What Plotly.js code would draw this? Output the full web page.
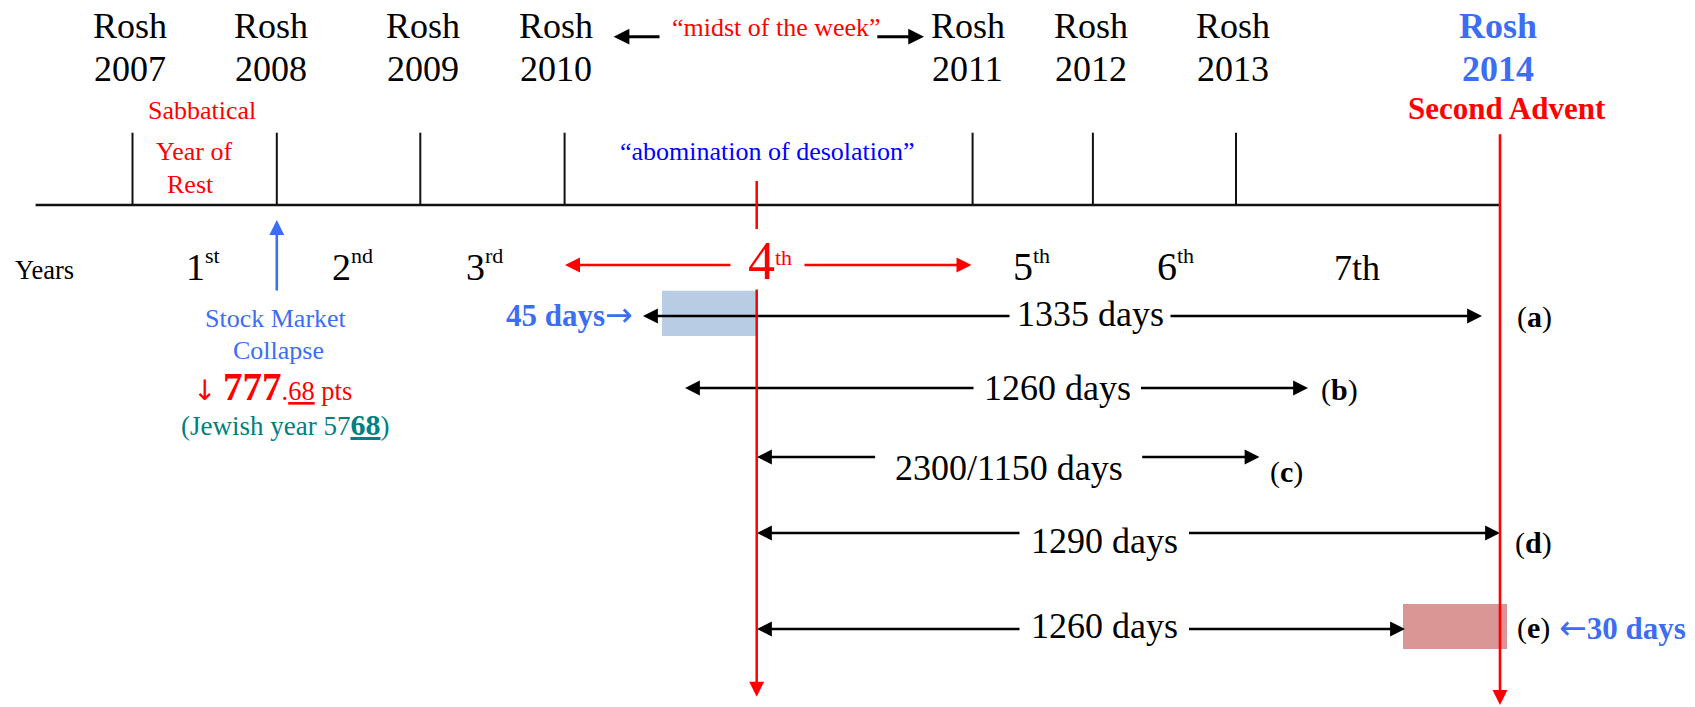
<!DOCTYPE html>
<html><head><meta charset="utf-8">
<script src="https://cdn.plot.ly/plotly-3.0.1.min.js"></script>
<style>html,body{margin:0;padding:0;background:#fff;overflow:hidden}#chart{width:1695px;height:707px}</style>
</head><body><div id="chart"></div>
<script>
// ---------- data (text / values) ----------
const roshWord = 'Rosh';
const roshYears = ['2007','2008','2009','2010','2011','2012','2013','2014'];
const yearNumbers = ['1','2','3','4','5','6','7'];
const yearSuffixes = ['st','nd','rd','th','th','th','th'];
const periodLabels = ['1335 days','1260 days','2300/1150 days','1290 days','1260 days'];
const periodTags = ['a','b','c','d','e'];
const sabbaticalLines = ['Sabbatical','Year of','Rest'];
const collapseLines = ['Stock Market','Collapse'];
const collapsePoints = ['777','68'];
const jewishYear = ['57','68'];
const extraDays = ['45 days','30 days'];
const midstLabel = '“midst of the week”';
const abominationLabel = '“abomination of desolation”';
const adventLabel = 'Second Advent';
const yearsLabel = 'Years';

// ---------- layout geometry (positions, px in a 1695x707 axis space) ----------
const G = {
  roshX: [130,271,423,555.5,967.5,1091,1233,1498], roshBase: 37.7, yearBase: 81,
  tickX: [132.5,276.8,420.3,564.6,972.6,1092.9,1236], tickTop: 132.7,
  axisY: 205, axisX0: 35.6, adventX: 1500, adventTop: 132.7, adventTip: 705,
  abomX: 756.7, abomTop: 181, abomGapTop: 229, abomGapBot: 288, abomTip: 696.7,
  ordJoint: [205,351,485,775,1033,1176.5,1356.5], ordSize: [38,38,38,54,40,40,36],
  ordBase: [280,280,280,279,280,280,280], supBase: [263,263,263,265,263,263,263],
  periodY: [316,388,457,533,629],
  periodL: [643,685,757,757,757], periodR: [1482,1308,1259.5,1500,1405],
  gapL: [1011,975,876.6,1021,1021], gapR: [1169,1139.5,1140.7,1187.5,1187.5],
  textBase: [326,400,480,553,638],
  tagX: [1534,1339,1286,1533,1533], tagBase: [327,400,481.7,553,638]
};

const FONT = 'Liberation Serif, Times New Roman, serif';
const ARROWFONT = "font-family:'DejaVu Sans';font-weight:normal;";
const BLUE = '#3b6ef3', RED = '#ff0000', TEAL = '#008080', PBLUE = '#0000ff', BLACK = '#000000';

const ann = [];
function txt(text, x, base, size, color, o) {
  o = o || {};
  ann.push({
    text: text, x: x, y: base - 0.3375 * (o.box || size), xref: 'x', yref: 'y',
    showarrow: false, xanchor: o.anchor || 'center', yanchor: 'middle',
    font: {family: FONT, size: size, color: color, weight: o.bold ? 'bold' : 'normal'},
    borderpad: 0, borderwidth: 0
  });
}
function arrow(x0, y0, x1, y1, color, width, size) {
  ann.push({
    x: x1, y: y1, ax: x0, ay: y0, xref: 'x', yref: 'y', axref: 'x', ayref: 'y',
    text: '', showarrow: true, arrowhead: 2, arrowsize: size, arrowwidth: width,
    arrowcolor: color, standoff: 0, startstandoff: 0
  });
}

// Rosh labels
roshYears.forEach((yr, i) => {
  const last = i === roshYears.length - 1;
  txt(roshWord, G.roshX[i], G.roshBase, 36, last ? BLUE : BLACK, {bold: last});
  txt(yr, G.roshX[i], G.yearBase, 36, last ? BLUE : BLACK, {bold: last});
});
// midst of the week
txt(midstLabel, 776, 36.7, 26, RED);
arrow(661, 36.7, 613.6, 36.7, BLACK, 3, 1.05);
arrow(875.8, 36.7, 924, 36.7, BLACK, 3, 1.05);
// Second advent
txt(adventLabel, 1507, 119, 31, RED, {bold: true});
// Sabbatical
[[201.7,119],[193.7,160],[190,193]].forEach((p, i) => txt(sabbaticalLines[i], p[0], p[1], 26, RED));
// abomination
txt(abominationLabel, 767, 160, 26, PBLUE);
// Years row
txt(yearsLabel, 44, 279, 26.5, BLACK);
yearNumbers.forEach((n, i) => {
  const col = i === 3 ? RED : BLACK;
  if (i === 6) {
    txt(n + yearSuffixes[i], G.ordJoint[i], G.ordBase[i], G.ordSize[i], col);
  } else {
    txt(n, G.ordJoint[i], G.ordBase[i], G.ordSize[i], col, {anchor: 'right'});
    txt(yearSuffixes[i], G.ordJoint[i], G.supBase[i], 22, col, {anchor: 'left'});
  }
});
// red 4th arrows
arrow(732, 265, 565, 265, RED, 2.5, 1.2);
arrow(803, 265, 971.5, 265, RED, 2.5, 1.2);
// stock market
arrow(276.8, 292, 276.8, 220, BLUE, 2.6, 1.15);
txt(collapseLines[0], 276, 327, 26, BLUE);
txt(collapseLines[1], 278, 359, 26, BLUE);
txt('<span style="' + ARROWFONT + 'font-size:28px">↓</span> <span style="font-weight:bold;font-size:39px">' + collapsePoints[0] +
    '</span>.<u>' + collapsePoints[1] + '</u> pts', 193, 400, 26.5, RED, {anchor: 'left', box: 39});
txt('(Jewish year ' + jewishYear[0] + '<b><u><span style="font-size:30px">' + jewishYear[1] + '</span></u></b>)',
    285, 435, 27, TEAL, {box: 30});
// extra days
txt('<b>' + extraDays[0] + '</b><span style="' + ARROWFONT + 'font-size:33px">→</span>', 506, 326, 31, BLUE, {anchor: 'left', box: 33});
txt('<span style="' + ARROWFONT + 'font-size:33px">←</span><b>' + extraDays[1] + '</b>', 1559, 639, 31, BLUE, {anchor: 'left', box: 33});
// periods
periodLabels.forEach((lab, i) => {
  const y = G.periodY[i];
  arrow(G.gapL[i], y, G.periodL[i], y, BLACK, 2.7, 1.1);
  arrow(G.gapR[i], y, G.periodR[i], y, BLACK, 2.7, 1.1);
  txt(lab, (G.gapL[i] + G.gapR[i]) / 2, G.textBase[i], 36, BLACK);
  txt('(<b>' + periodTags[i] + '</b>)', G.tagX[i], G.tagBase[i], 30, BLACK);
});
// red vertical arrows
arrow(G.abomX, G.abomGapBot, G.abomX, G.abomTip, RED, 2.5, 1.2);
arrow(G.adventX, G.adventTop, G.adventX, G.adventTip, RED, 2.6, 1.15);

// shapes
const shapes = [];
shapes.push({type:'rect', xref:'x', yref:'y', x0:662, x1:756, y0:290.7, y1:336, fillcolor:'#b8cce4', line:{width:0}});
shapes.push({type:'rect', xref:'x', yref:'y', x0:1403, x1:1507, y0:604, y1:649, fillcolor:'#d99694', line:{width:0}});
shapes.push({type:'line', xref:'x', yref:'y', x0:G.axisX0, x1:G.adventX, y0:G.axisY, y1:G.axisY, line:{color:'#111', width:2.5}});
G.tickX.forEach(x => shapes.push({type:'line', xref:'x', yref:'y', x0:x, x1:x, y0:G.tickTop, y1:G.axisY, line:{color:'#111', width:2}}));
shapes.push({type:'line', xref:'x', yref:'y', x0:G.abomX, x1:G.abomX, y0:G.abomTop, y1:G.abomGapTop, line:{color:RED, width:2.5}});

const layout = {
  width: 1695, height: 707, margin: {l:0, r:0, t:0, b:0, pad:0},
  paper_bgcolor: '#ffffff', plot_bgcolor: '#ffffff', showlegend: false,
  xaxis: {range: [0, 1695], visible: false, showgrid: false, zeroline: false, fixedrange: true},
  yaxis: {range: [707, 0], visible: false, showgrid: false, zeroline: false, fixedrange: true},
  shapes: shapes, annotations: ann
};
Plotly.newPlot('chart', [], layout, {staticPlot: true, displayModeBar: false});
</script></body></html>
